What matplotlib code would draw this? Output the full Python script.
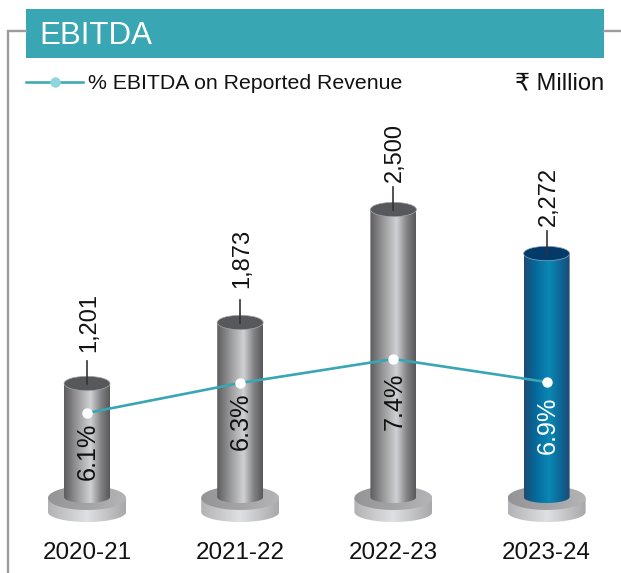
import numpy as np
import matplotlib
matplotlib.use("Agg")
import matplotlib.pyplot as plt
from matplotlib.colors import LinearSegmentedColormap
from matplotlib.patches import Ellipse, Polygon, Rectangle

plt.rcParams['font.family'] = ['Liberation Sans', 'DejaVu Sans']

# Data
categories = ['2020-21', '2021-22', '2022-23', '2023-24']
value_labels = ['1,201', '1,873', '2,500', '2,272']
pct_labels = ['6.1%', '6.3%', '7.4%', '6.9%']
# The reference is not drawn to scale, so the drawn heights are read off the picture
bar_heights = [113.5, 174.5, 287.5, 243.5]
line_heights = [84, 114, 138, 115]
highlight = [False, False, False, True]

# Label placement relative to the marks, in pixels
value_gaps = [32, 34, 27, 27]
pct_gaps = [10, 10, 14, 15]

W, H = 621, 573
X0, DX, BASE = 87.0, 153.2, 497.0
fig = plt.figure(figsize=(W / 100, H / 100), dpi=100, facecolor='white')

# Decoration layer in pixel coordinates
pix = fig.add_axes([0, 0, 1, 1], zorder=0)
pix.set_xlim(0, W); pix.set_ylim(H, 0); pix.axis('off')
pix.plot([8, 8, 26], [H, 31, 31], color='#9c9c9e', lw=1.7, solid_joinstyle='miter')
pix.plot([604, W], [31, 31], color='#9c9c9e', lw=1.7)
pix.add_patch(Rectangle((26, 9), 578, 49, color='#38a6b3', lw=0))
pix.text(39, 36.5, 'EBITDA', color='white', fontsize=22.5, va='center', ha='left')
pix.plot([26, 83], [82, 82], color='#38a6b3', lw=1.8)
pix.plot([55], [82], 'o', color='#8fd6de', ms=7.5, mew=0)
pix.text(88, 83.5, '% EBITDA on Reported Revenue', fontsize=15.35, va='center', ha='left', color='#111111')
pix.text(604, 83, '₹ Million', fontsize=17, va='center', ha='right', color='#111111')

# Chart layer
ax = fig.add_axes([0, 0, 1, 1], zorder=1)
ax.patch.set_alpha(0)
ax.axis('off')

gray = LinearSegmentedColormap.from_list('g', [(0, '#5c5c5e'), (.3, '#9b9b9d'), (.58, '#d0d1d4'), (.8, '#838385'), (1, '#58585a')])
blue = LinearSegmentedColormap.from_list('b', [(0, '#1e4a72'), (.25, '#05699c'), (.55, '#0a88b4'), (.85, '#0f5f8e'), (1, '#1e4a72')])
disc_top = LinearSegmentedColormap.from_list('d', [(0, '#949496'), (1, '#b4b4b6')])
disc_side = LinearSegmentedColormap.from_list('s', [(0, '#b2b2b4'), (.5, '#dfe0e3'), (1, '#a8a8aa')])
grad = np.linspace(0, 1, 256).reshape(1, -1)


def gradient(cmap, x0, x1, y0, y1, pts):
    im = ax.imshow(grad, cmap=cmap, extent=(x0, x1, y0, y1), aspect='auto', zorder=2, interpolation='bilinear')
    clip = Polygon(pts, closed=True, transform=ax.transData)
    im.set_clip_path(clip)
    return im


hw = 23 / DX
dw = 39 / DX
t = np.linspace(0, np.pi, 80)
t2 = np.linspace(0, 2 * np.pi, 160)
for i, (h, lh) in enumerate(zip(bar_heights, line_heights)):
    # base disc: side wall, then top face
    side_pts = np.r_[[[i - dw, -1], [i + dw, -1]], np.c_[i + dw * np.cos(t), -15 - 10 * np.sin(t)]]
    gradient(disc_side, i - dw, i + dw, -26, 10, side_pts)
    top_pts = np.c_[i + dw * np.cos(t2), -1 + 12 * np.sin(t2)]
    gradient(disc_top, i - dw, i + dw, -14, 12, top_pts)

    # body
    body_pts = np.r_[[[i - hw, h], [i + hw, h]], np.c_[i + hw * np.cos(t), -6 * np.sin(t)]]
    gradient(blue if highlight[i] else gray, i - hw, i + hw, -6, h, body_pts)

    # cap
    ax.add_patch(Ellipse((i, h), 2 * hw, 14.5, facecolor='#043a69' if highlight[i] else '#57585c',
                         edgecolor='#8fa9bd' if highlight[i] else '#a8a8aa', lw=.5, zorder=3))

    # leader and value label
    ax.plot([i, i], [h, h + 23], color='#333333', lw=1.2, zorder=4)
    ax.text(i + .012, h + value_gaps[i], value_labels[i], rotation=90, ha='center', va='bottom', fontsize=17,
            color='#111111', zorder=6)
    # percent label
    ax.text(i + .006, lh - pct_gaps[i], pct_labels[i], rotation=90, ha='center', va='top', fontsize=18.2,
            color='white' if highlight[i] else '#111111', zorder=6)
    # category label
    ax.text(i, -56, categories[i], ha='center', va='center', fontsize=17.4, color='#111111', zorder=6)

xs = np.arange(len(categories))
ax.plot(xs, line_heights, color='#38a6b3', lw=1.9, zorder=5)
ax.plot(xs, line_heights, 'o', color='white', ms=7.5, mew=0, zorder=5.5)
ax.set_xlim(-X0 / DX, (W - X0) / DX)
ax.set_ylim(BASE - H, BASE)

fig.savefig('out.png', dpi=100)
